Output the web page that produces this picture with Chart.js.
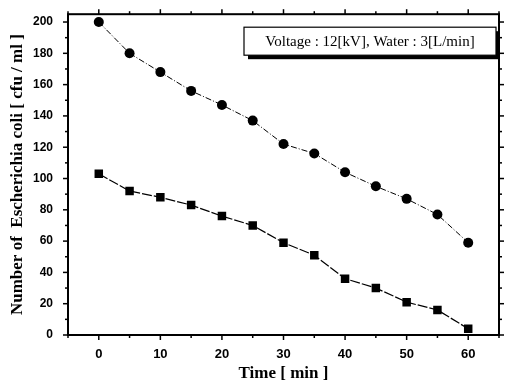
<!DOCTYPE html>
<html><head><meta charset="utf-8">
<script src="https://cdn.jsdelivr.net/npm/chart.js@4.4.1/dist/chart.umd.min.js"></script>
<style>html,body{margin:0;padding:0;background:#fff}#wrap{width:505px;height:384px}</style>
</head><body><div id="wrap"><canvas id="c" width="505" height="384"></canvas></div>
<script>
const times = [0,5,10,15,20,25,30,35,40,45,50,55,60];
const circleSeries = [200,180,168,156,147,137,122,116,104,95,87,77,59];
const squareSeries = [103,92,88,83,76,70,59,51,36,30,21,16,4];
const xTicks = [0,10,20,30,40,50,60];
const yTicks = [0,20,40,60,80,100,120,140,160,180,200];
const boxText = 'Voltage : 12[kV], Water : 3[L/min]';

const minorTicks = {
  id:'minorTicks',
  afterDraw(chart){
    const ctx=chart.ctx, a=chart.chartArea;
    const x=chart.scales.x, y=chart.scales.y;
    ctx.save(); ctx.strokeStyle='#000'; ctx.lineWidth=1.5;
    for(let v=-5; v<=65; v+=5){
      const px=x.getPixelForValue(v);
      const major = xTicks.includes(v);
      const len = major?5:3;
      ctx.beginPath(); ctx.moveTo(px,a.bottom); ctx.lineTo(px,a.bottom+len); ctx.stroke();
      ctx.beginPath(); ctx.moveTo(px,a.top); ctx.lineTo(px,a.top-len); ctx.stroke();
    }
    for(let v=0; v<=200; v+=10){
      const py=y.getPixelForValue(v);
      const major = yTicks.includes(v);
      const len = major?5:3;
      ctx.beginPath(); ctx.moveTo(a.left,py); ctx.lineTo(a.left-len,py); ctx.stroke();
      ctx.beginPath(); ctx.moveTo(a.right,py); ctx.lineTo(a.right+len,py); ctx.stroke();
    }
    ctx.lineWidth=2;
    ctx.strokeRect(a.left,a.top,a.right-a.left,a.bottom-a.top);
    const bx=a.left+176, by=a.top+13, bw=252, bh=28;
    ctx.fillStyle='#000'; ctx.fillRect(bx+4,by+4,bw,bh);
    ctx.fillStyle='#fff'; ctx.fillRect(bx,by,bw,bh);
    ctx.lineWidth=1.2; ctx.strokeRect(bx,by,bw,bh);
    ctx.fillStyle='#000'; ctx.font='15px "Liberation Serif"'; ctx.textAlign='center'; ctx.textBaseline='middle';
    ctx.fillText(boxText,bx+bw/2,by+bh/2+1);
    ctx.restore();
  }
};

new Chart(document.getElementById('c'),{
  type:'line',
  data:{datasets:[
    {data:times.map((t,i)=>({x:t,y:circleSeries[i]})),borderColor:'#000',backgroundColor:'#000',borderWidth:1,borderDash:[6,2,1,2],pointStyle:'circle',pointRadius:5,pointBorderWidth:0,tension:0},
    {data:times.map((t,i)=>({x:t,y:squareSeries[i]})),borderColor:'#000',backgroundColor:'#000',borderWidth:1.2,borderDash:[10,2],pointStyle:'rect',pointRadius:6,pointBorderWidth:0,tension:0}
  ]},
  plugins:[minorTicks],
  options:{
    responsive:false,animation:false,
    layout:{padding:0},
    plugins:{legend:{display:false},tooltip:{enabled:false}},
    scales:{
      x:{type:'linear',min:-5,max:65,
        afterBuildTicks(s){s.ticks=xTicks.map(v=>({value:v}));},
        afterFit(s){s.height=49;},
        grid:{display:false},border:{display:false},
        ticks:{color:'#000',padding:4,font:{family:'"Liberation Sans"',weight:'bold',size:13}},
        title:{display:true,text:'Time [ min ]',color:'#000',padding:{top:0,bottom:0},font:{family:'"Liberation Serif"',weight:'bold',size:17}}},
      xTop:{type:'linear',position:'top',min:-5,max:65,
        afterFit(s){s.height=13;},
        grid:{display:false},border:{display:false},ticks:{display:false}},
      y:{type:'linear',min:0,max:205,
        afterBuildTicks(s){s.ticks=yTicks.map(v=>({value:v}));},
        afterFit(s){s.width=68;},
        grid:{display:false},border:{display:false},
        ticks:{color:'#000',padding:7,font:{family:'"Liberation Sans"',weight:'bold',size:12}},
        title:{display:true,text:'Number of  Escherichia coli [ cfu / ml ]',color:'#000',padding:{top:7,bottom:0},font:{family:'"Liberation Serif"',weight:'bold',size:17}}},
      yRight:{type:'linear',position:'right',min:0,max:205,
        afterFit(s){s.width=5;},
        grid:{display:false},border:{display:false},ticks:{display:false}}
    }
  }
});
</script></body></html>
